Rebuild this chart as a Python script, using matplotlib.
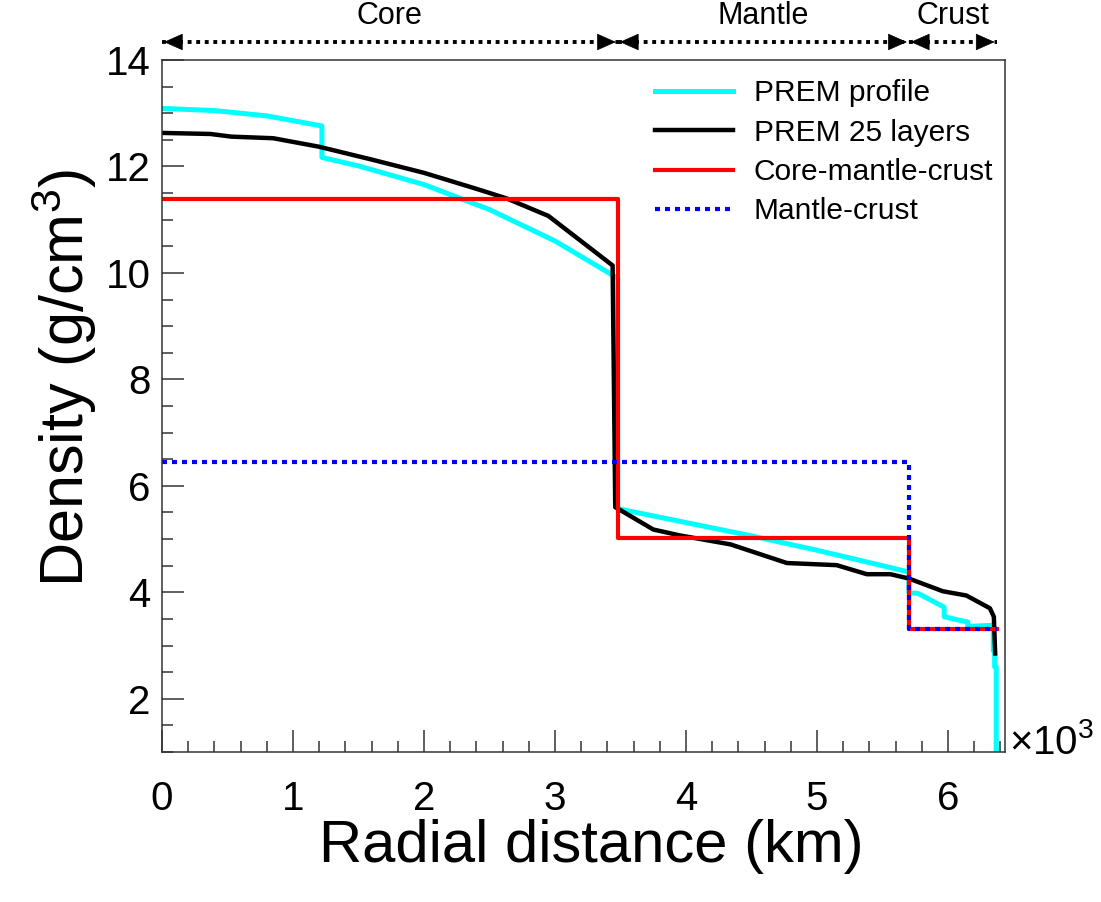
import matplotlib
matplotlib.use("Agg")
import matplotlib.pyplot as plt
from matplotlib.ticker import MultipleLocator, FuncFormatter

plt.rcParams['font.family'] = ['Liberation Sans', 'DejaVu Sans']
plt.rcParams['mathtext.default'] = 'regular'

# PREM density profile (km, g/cm^3)
prem_r = [0, 400, 800, 1221, 1221, 1500, 2000, 2500, 3000, 3480,
          3480, 4000, 4500, 5000, 5500, 5701,
          5701, 5771, 5971, 5971, 6151, 6151, 6346, 6346, 6356, 6356, 6368, 6368, 6371]
prem_rho = [13.09, 13.05, 12.95, 12.76, 12.17, 12.01, 11.66, 11.19, 10.60, 9.90,
            5.57, 5.31, 5.06, 4.79, 4.50, 4.38,
            3.99, 3.98, 3.72, 3.54, 3.44, 3.36, 3.38, 2.90, 2.90, 2.60, 2.60, 1.02, 1.02]

# PREM approximated with 25 layers
l25_r = [0, 370, 530, 850, 1200, 1600, 2000, 2400, 2630, 2950, 3440, 3460,
         3750, 3950, 4340, 4770, 5150, 5380, 5560, 5700, 5960, 6140, 6320, 6350, 6360]
l25_rho = [12.63, 12.61, 12.56, 12.53, 12.37, 12.13, 11.88, 11.58, 11.40, 11.07, 10.14, 5.60,
           5.18, 5.07, 4.90, 4.55, 4.51, 4.34, 4.34, 4.26, 4.02, 3.94, 3.70, 3.54, 2.85]

# simple layered models
cmc_r = [0, 3480, 3480, 5701, 5701, 6371]
cmc_rho = [11.38, 11.38, 5.02, 5.02, 3.31, 3.31]
mc_r = [0, 5701, 5701, 6371]
mc_rho = [6.45, 6.45, 3.31, 3.31]

regions = ['Core', 'Mantle', 'Crust']
region_edges = [0, 3480, 5701, 6371]

fig = plt.figure(figsize=(11.01, 9.02), dpi=100)
ax = fig.add_axes([0.1471, 0.1663, 0.7657, 0.7672])

ax.plot(prem_r, prem_rho, color='cyan', lw=3.6, label='PREM profile')
ax.plot(l25_r, l25_rho, color='black', lw=3.2, label='PREM 25 layers')
ax.plot(cmc_r, cmc_rho, color='red', lw=3.0, label='Core-mantle-crust')
ax.plot(mc_r, mc_rho, color='blue', lw=3.0, linestyle=(0, (1.2, 1.2)), label='Mantle-crust')

ax.set_xlim(0, 6435)
ax.set_ylim(1, 14)

ax.xaxis.set_major_locator(MultipleLocator(1000))
ax.xaxis.set_minor_locator(MultipleLocator(200))
ax.yaxis.set_major_locator(MultipleLocator(2))
ax.yaxis.set_minor_locator(MultipleLocator(0.5))
ax.xaxis.set_major_formatter(FuncFormatter(lambda v, p: f'{v / 1000:.0f}'))

ax.tick_params(which='both', direction='in', top=False, right=False, width=1.1, color='#333333')
ax.tick_params(which='major', length=16, labelsize=29)
ax.tick_params(which='minor', length=8)
ax.tick_params(axis='x', pad=20)
ax.tick_params(axis='y', pad=8)
for s in ax.spines.values():
    s.set_linewidth(1.1)
    s.set_color('#333333')

ax.set_xlabel('Radial distance (km)', fontsize=43)
ax.set_ylabel('Density (g/cm$^{3}$)', fontsize=44)
ax.xaxis.set_label_coords(0.509, -0.097)
ax.yaxis.set_label_coords(-0.075, 0.54)

ax.text(1.005, 0.014, r'$\times$10$^{3}$', transform=ax.transAxes, fontsize=29,
        ha='left', va='center')

ax.legend(loc='upper left', bbox_to_anchor=(0.585, 0.972), frameon=False, fontsize=21.5,
          handlelength=2.6, handletextpad=0.7, labelspacing=0.38, borderpad=0, borderaxespad=0)

# region arrows above the frame: dotted shaft + solid heads
trans = ax.get_xaxis_transform()
arrow_y = 1.026
for name, x0, x1 in zip(regions, region_edges[:-1], region_edges[1:]):
    ax.plot([x0, x1], [arrow_y, arrow_y], transform=trans, color='black', lw=2.8,
            linestyle=(0, (1.0, 1.2)), clip_on=False)
    for tip, off in ((x0 + 15, 13), (x1 - 15, -13)):
        ax.annotate('', xy=(tip, arrow_y), xycoords=trans,
                    xytext=(off, 0), textcoords='offset points', annotation_clip=False,
                    arrowprops=dict(arrowstyle='-|>,head_length=0.9,head_width=0.4',
                                    mutation_scale=14, lw=0.5, color='black',
                                    shrinkA=0, shrinkB=0))
    ax.text((x0 + x1) / 2, 1.063, name, transform=trans, fontsize=22,
            ha='center', va='center')

fig.savefig('out.png', dpi=100)
